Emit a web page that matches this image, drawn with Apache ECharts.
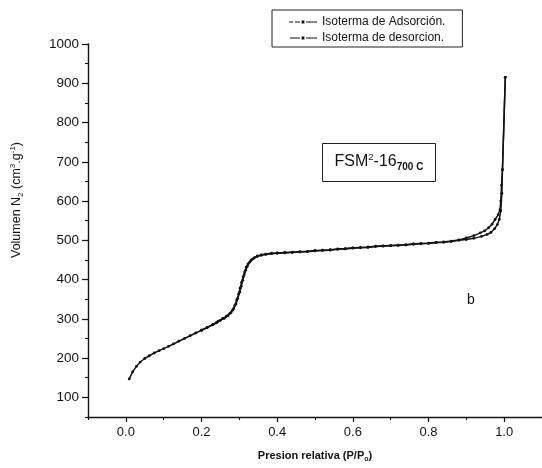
<!DOCTYPE html>
<html>
<head>
<meta charset="utf-8">
<title>FSM-16 isoterma N2</title>
<script src="https://cdn.jsdelivr.net/npm/echarts@6/dist/echarts.min.js"></script>
<style>
  html, body { margin: 0; padding: 0; background: #fff; }
  #chart { width: 542px; height: 468px; }
</style>
</head>
<body>
<div id="chart"></div>
<script>
// Relative pressure P/Po and adsorbed volume (cm3/g) – adsorption branch
const adsP = [0.009, 0.018, 0.028, 0.038, 0.05, 0.062, 0.075, 0.088, 0.1, 0.113, 0.126, 0.14,
  0.155, 0.17, 0.185, 0.2, 0.215, 0.23, 0.244, 0.256, 0.266, 0.275, 0.282, 0.288, 0.293, 0.298,
  0.302, 0.306, 0.31, 0.314, 0.318, 0.323, 0.33, 0.338, 0.347, 0.358, 0.37, 0.385, 0.4, 0.42,
  0.44, 0.46, 0.48, 0.5, 0.52, 0.54, 0.56, 0.58, 0.6, 0.62, 0.64, 0.66, 0.68, 0.7, 0.72, 0.74,
  0.76, 0.78, 0.8, 0.82, 0.84, 0.86, 0.88, 0.9, 0.92, 0.94, 0.955, 0.965, 0.975, 0.982, 0.987,
  0.991, 0.994, 0.9955, 1.003];
const adsV = [147, 165, 179, 190, 199, 206, 213, 219, 224, 230, 236, 243,
  250, 257, 264, 271, 278, 286, 294, 301, 307, 314, 322, 334, 348, 363,
  378, 393, 407, 419, 431, 440, 448, 454, 459, 462, 464, 466, 467, 468,
  469, 470, 471, 473, 474, 475, 477, 478, 480, 481, 482, 484, 485, 486, 487, 488,
  490, 491, 492, 494, 495, 497, 500, 502, 505, 510, 515, 520, 530, 540, 553,
  575, 620, 680, 915];

// Desorption branch
const desP = [1.003, 0.9955, 0.993, 0.991, 0.989, 0.984, 0.976, 0.968, 0.959, 0.948, 0.937, 0.92,
  0.9, 0.88, 0.86, 0.84, 0.82, 0.8, 0.78, 0.76, 0.74, 0.72, 0.7, 0.68, 0.66, 0.64, 0.62, 0.6,
  0.58, 0.56, 0.54, 0.52, 0.5, 0.48, 0.46, 0.44, 0.42, 0.4, 0.385, 0.37, 0.358, 0.348, 0.34,
  0.333, 0.327, 0.321, 0.317, 0.313, 0.309, 0.305, 0.301, 0.296, 0.291, 0.285, 0.278, 0.27,
  0.26, 0.25, 0.24, 0.23, 0.215, 0.2];
const desV = [915, 680, 640, 600, 578, 565, 553, 541, 532, 524, 519, 512,
  506, 501, 498, 496, 495, 493, 492, 491, 489, 488, 487, 486, 485, 483, 482, 481,
  479, 478, 476, 475, 474, 472, 471, 470, 469, 468, 467, 465, 463, 460, 456,
  451, 444, 434, 424, 412, 398, 383, 368, 352, 338, 326, 316, 308,
  301, 296, 290, 285, 278, 271];

const seriesNames = ['Isoterma de Adsorción.', 'Isoterma de desorcion.'];
const xMajorTicks = [0, 0.2, 0.4, 0.6, 0.8, 1.0];
const yMajorTicks = [100, 200, 300, 400, 500, 600, 700, 800, 900, 1000];

const pairs = (xs, ys) => xs.map((x, i) => [x, ys[i]]);

const FONT = '"Liberation Sans", Arial, Helvetica, sans-serif';
const INK = '#141414';

// legend glyphs: dash–dot–dash line samples
const ICON_ADS = 'path://M0,5.5h4v1h-4z M6,5.5h5v1h-5z M12.6,4.6h2.8v2.8h-2.8z M17,5.5h11v1h-11z';
const ICON_DES = 'path://M1,5.6h10v0.8h-10z M12.6,4.6h2.8v2.8h-2.8z M17,5.5h11v1h-11z M0,5.6h0.1v0.1h-0.1z';

const chart = echarts.init(document.getElementById('chart'), null, { renderer: 'canvas' });

const lineSeries = (name, xs, ys) => ({
  name: name,
  type: 'line',
  data: pairs(xs, ys),
  xAxisIndex: 0,
  yAxisIndex: 0,
  symbol: 'circle',
  symbolSize: 2.8,
  showSymbol: true,
  smooth: false,
  animation: false,
  lineStyle: { color: INK, width: 1.5 },
  itemStyle: { color: INK },
  emphasis: { disabled: true }
});

chart.setOption({
  backgroundColor: '#ffffff',
  animation: false,
  textStyle: { fontFamily: FONT, color: INK },
  grid: { left: 88, top: 44, width: 455, height: 374, containLabel: false },
  legend: {
    data: [
      { name: seriesNames[0], icon: ICON_ADS },
      { name: seriesNames[1], icon: ICON_DES }
    ],
    orient: 'vertical',
    left: 272,
    top: 10,
    padding: [6, 17, 3, 17],
    itemGap: 4,
    itemWidth: 28,
    itemHeight: 12,
    symbolKeepAspect: true,
    borderColor: '#222',
    borderWidth: 1,
    textStyle: { fontFamily: FONT, fontSize: 12, color: INK },
    selectedMode: false
  },
  xAxis: [
    {
      type: 'value',
      min: -0.1,
      max: 1.1,
      position: 'bottom',
      splitLine: { show: false },
      axisLine: { onZero: false, lineStyle: { color: INK, width: 1.4 } },
      axisTick: { show: true, customValues: xMajorTicks, length: 5, lineStyle: { color: INK, width: 1.2 } },
      axisLabel: {
        customValues: xMajorTicks,
        formatter: v => v.toFixed(1),
        margin: 9,
        fontSize: 13,
        fontFamily: FONT,
        color: INK
      },
      name: '{b|Presion relativa (P/P}{s|o}{b|)}',
      nameLocation: 'middle',
      nameGap: 32,
      nameTextStyle: {
        rich: {
          b: { fontFamily: FONT, fontSize: 11, fontWeight: 'bold', color: INK, lineHeight: 14 },
          s: { fontFamily: FONT, fontSize: 7, fontWeight: 'bold', color: INK, lineHeight: 8, verticalAlign: 'bottom' }
        }
      }
    },
    {
      // minor ticks every 0.1
      type: 'value',
      min: -0.1,
      max: 1.1,
      interval: 0.1,
      position: 'bottom',
      axisLine: { show: false, onZero: false },
      splitLine: { show: false },
      axisTick: { show: true, length: 3, lineStyle: { color: INK, width: 1.1 } },
      axisLabel: { show: false }
    }
  ],
  yAxis: [
    {
      type: 'value',
      min: 50,
      max: 1000,
      position: 'left',
      splitLine: { show: false },
      axisLine: { show: true, onZero: false, lineStyle: { color: INK, width: 1.4 } },
      axisTick: { show: true, customValues: yMajorTicks, length: 6, lineStyle: { color: INK, width: 1.2 } },
      axisLabel: {
        customValues: yMajorTicks,
        formatter: v => String(v),
        margin: 9,
        fontSize: 13.5,
        fontFamily: FONT,
        color: INK
      }
    },
    {
      // minor ticks every 50
      type: 'value',
      min: 50,
      max: 1000,
      interval: 50,
      position: 'left',
      offset: 0,
      axisLine: { show: false, onZero: false },
      splitLine: { show: false },
      axisTick: { show: true, length: 3, lineStyle: { color: INK, width: 1.1 } },
      axisLabel: { show: false }
    }
  ],
  series: [
    lineSeries(seriesNames[0], adsP, adsV),
    lineSeries(seriesNames[1], desP, desV)
  ],
  graphic: [
    {
      // y axis title, reading bottom to top
      type: 'text',
      x: 17,
      y: 200,
      rotation: Math.PI / 2,
      style: {
        text: '{m|Volumen N}{sub|2}{m| (cm}{sup|3}{m|.g}{sup|-1}{m|)}',
        align: 'center',
        verticalAlign: 'middle',
        rich: {
          m: { fontFamily: FONT, fontSize: 12.5, fill: INK, lineHeight: 16 },
          sub: { fontFamily: FONT, fontSize: 8, fill: INK, lineHeight: 8, verticalAlign: 'bottom' },
          sup: { fontFamily: FONT, fontSize: 8, fill: INK, lineHeight: 8, verticalAlign: 'top' }
        }
      }
    },
    {
      // sample label box
      type: 'rect',
      shape: { x: 322.5, y: 143.5, width: 113, height: 38 },
      style: { fill: '#fff', stroke: '#222', lineWidth: 1 }
    },
    {
      type: 'text',
      x: 379,
      y: 162,
      style: {
        text: '{m|FSM}{sup|2}{m|-16}{sub|700 C}',
        align: 'center',
        verticalAlign: 'middle',
        rich: {
          m: { fontFamily: FONT, fontSize: 16, fill: INK, lineHeight: 20 },
          sup: { fontFamily: FONT, fontSize: 9.5, fill: INK, lineHeight: 12, verticalAlign: 'top' },
          sub: { fontFamily: FONT, fontSize: 10, fontWeight: 'bold', fill: INK, lineHeight: 11, verticalAlign: 'bottom' }
        }
      }
    },
    {
      type: 'text',
      x: 471,
      y: 300,
      style: {
        text: 'b',
        align: 'center',
        verticalAlign: 'middle',
        fontFamily: FONT,
        fontSize: 14,
        fill: INK
      }
    }
  ]
});
</script>
</body>
</html>
